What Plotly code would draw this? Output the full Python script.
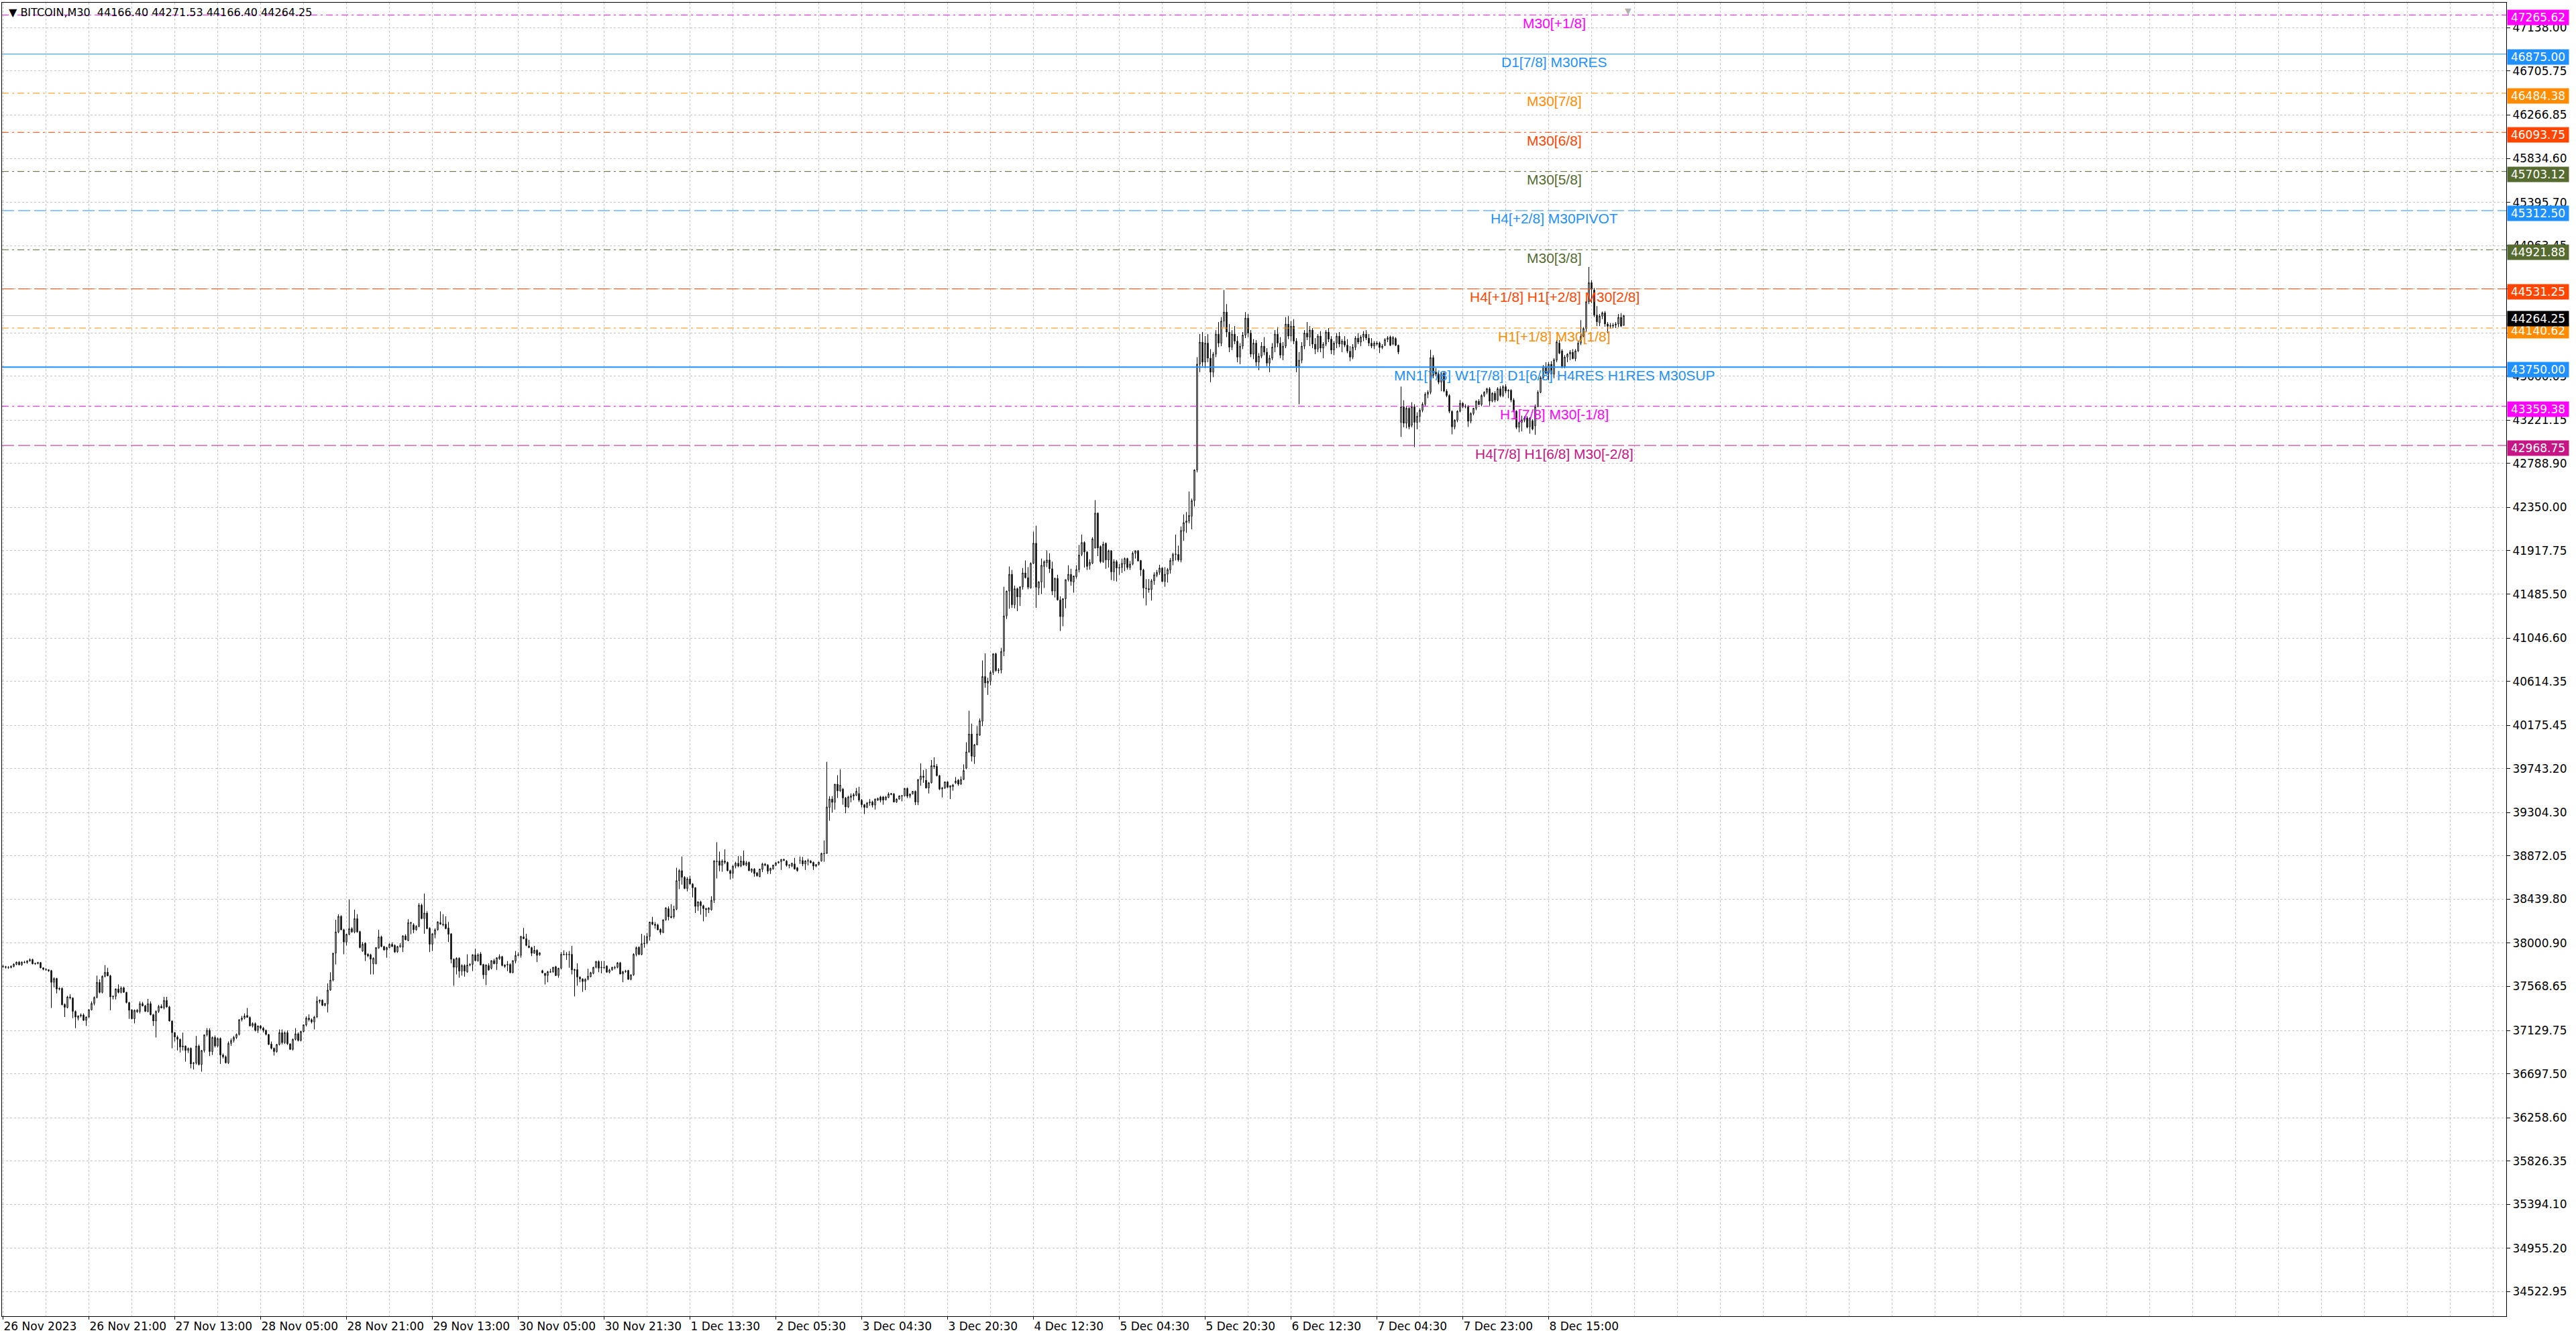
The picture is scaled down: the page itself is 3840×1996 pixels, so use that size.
import plotly.graph_objects as go

# BITCOIN M30 candles, oldest first (bar index = position in list)
opens = [
    37770, 37766, 37760, 37758, 37768, 37790, 37812, 37785, 37812, 37808,
    37825, 37838, 37795, 37798, 37808, 37755, 37740, 37735, 37728, 37610,
    37648, 37543, 37550, 37390, 37360, 37465, 37455, 37320, 37253, 37275,
    37285, 37231, 37264, 37336, 37400, 37460, 37610, 37510, 37670, 37712,
    37675, 37465, 37470, 37543, 37510, 37556, 37510, 37409, 37336, 37247,
    37331, 37318, 37398, 37375, 37320, 37398, 37287, 37224, 37320, 37370,
    37355, 37430, 37365, 37224, 37108, 37064, 37041, 36964, 36975, 36930,
    36952, 36800, 36805, 36975, 36790, 36930, 37086, 37131, 36919, 37060,
    36975, 37050, 36885, 36867, 36807, 37001, 37030, 37060, 37090, 37238,
    37253, 37280, 37260, 37175, 37198, 37131, 37175, 37153, 37131, 37090,
    36995, 36952, 36919, 36990, 37108, 37008, 37108, 36997, 36941, 37041,
    37097, 37030, 37120, 37186, 37253, 37238, 37215, 37264, 37421, 37432,
    37380, 37395, 37533, 37633, 37901, 38113, 38269, 38135, 38012, 38090,
    38146, 38113, 38246, 38117, 37923, 38001, 37890, 37885, 37796, 37796,
    37952, 38064, 37968, 37934, 37957, 37990, 37979, 37916, 37968, 37961,
    38073, 38028, 38206, 38184, 38135, 38169, 38380, 38246, 38302, 38151,
    37990, 38090, 38135, 38206, 38191, 38191, 38153, 38095, 37841, 37760,
    37850, 37722, 37778, 37716, 37783, 37789, 37885, 37827, 37894, 37789,
    37685, 37778, 37751, 37827, 37796, 37845, 37867, 37768, 37783, 37789,
    37707, 37823, 37879, 37879, 38064, 38046, 37974, 37957, 37901, 37930,
    37885, 37727, 37700, 37678, 37716, 37716, 37767, 37678, 37751, 37890,
    37885, 37890, 37890, 37729, 37738, 37662, 37644, 37618, 37640, 37667,
    37700, 37760, 37818, 37756, 37760, 37774, 37711, 37734, 37760, 37760,
    37805, 37693, 37716, 37729, 37640, 37685, 37890, 37960, 37889, 37996,
    38001, 38068, 38212, 38190, 38183, 38139, 38108, 38233, 38346, 38268,
    38264, 38340, 38625, 38725, 38659, 38547, 38643, 38592, 38554, 38368,
    38413, 38375, 38346, 38335, 38335, 38429, 38814, 38821, 38777, 38821,
    38808, 38725, 38696, 38770, 38799, 38770, 38821, 38781, 38808, 38719,
    38741, 38703, 38665, 38737, 38777, 38781, 38725, 38741, 38777, 38803,
    38814, 38826, 38821, 38781, 38770, 38792, 38754, 38826, 38826, 38792,
    38826, 38821, 38808, 38770, 38786, 38821, 38893, 38897, 39356, 39439,
    39406, 39588, 39521, 39539, 39450, 39361, 39455, 39468, 39477, 39495,
    39428, 39383, 39356, 39401, 39410, 39379, 39428, 39461, 39461, 39432,
    39455, 39484, 39490, 39410, 39439, 39468, 39472, 39546, 39468, 39490,
    39517, 39410, 39633, 39669, 39628, 39550, 39602, 39773, 39766, 39673,
    39539, 39550, 39611, 39557, 39564, 39600, 39628, 39588, 39635, 39748,
    39910, 40089, 39862, 39982, 40077, 40216, 40663, 40596, 40615, 40703,
    40889, 40722, 40727, 40913, 41267, 41515, 41683, 41379, 41539, 41458,
    41558, 41697, 41649, 41546, 41792, 41993, 41546, 41606, 41761, 41797,
    41826, 41738, 41515, 41642, 41427, 41260, 41439, 41630, 41683, 41606,
    41659, 41730, 41881, 42000, 41905, 41773, 41793, 41945, 42294, 41960,
    41809, 41993, 41826, 41917, 41707, 41809, 41745, 41750, 41785, 41840,
    41750, 41785, 41893, 41917, 41821, 41726, 41539, 41539, 41530, 41618,
    41673, 41702, 41745, 41611, 41683, 41726, 41816, 41881, 41881, 41826,
    42113, 42199, 42215, 42263, 42418, 42724, 43780, 44000, 43800, 43990,
    43840, 43700, 43880, 44080, 43990, 44210, 44300, 44100, 43950, 44080,
    44010, 43850, 43960, 44070, 44240, 44090, 43880, 43990, 43800, 43860,
    43960, 43900, 43790, 43840, 43950, 44080, 43990, 43870, 43960, 44180,
    44060, 44160, 44010, 43760, 43820, 43960, 44090, 44050, 44120, 43980,
    43930, 44060, 43940, 43980, 44100, 44030, 43920, 43990, 44060, 43980,
    44010, 43970, 43910, 43850, 43950, 44040, 44000, 44050, 44080, 44040,
    43990, 43960, 43990, 43991, 43946, 43969, 44025, 44052, 43980, 44036,
    43969, 43199, 43355, 43190, 43340, 43170, 43355, 43199, 43260, 43320,
    43380, 43480, 43500, 43846, 43700, 43680, 43601, 43690, 43511, 43467,
    43310, 43154, 43221, 43310, 43390, 43355, 43358, 43210, 43288, 43340,
    43410, 43377, 43467, 43500, 43534, 43411, 43489, 43422, 43534, 43467,
    43556, 43511, 43519, 43422, 43310, 43150, 43199, 43221, 43243, 43154,
    43215, 43165, 43355, 43500, 43645, 43757, 43690, 43779, 43680, 43820,
    43990, 43913, 43757, 43850, 43880, 43900, 43835, 43913, 43990, 44058,
    44136, 44404, 44594, 44520, 44270, 44192, 44259, 44293, 44181, 44159,
    44160, 44170, 44181, 44248, 44166.40,
]
highs = [
    37785, 37775, 37772, 37780, 37800, 37818, 37822, 37818, 37825, 37830,
    37849, 37845, 37805, 37815, 37812, 37760, 37752, 37740, 37735, 37660,
    37655, 37560, 37560, 37400, 37475, 37490, 37460, 37330, 37280, 37300,
    37300, 37270, 37345, 37420, 37470, 37677, 37640, 37680, 37782, 37755,
    37685, 37480, 37550, 37590, 37570, 37565, 37515, 37415, 37340, 37340,
    37345, 37420, 37415, 37385, 37445, 37420, 37295, 37330, 37385, 37390,
    37465, 37465, 37375, 37230, 37115, 37080, 37050, 37108, 36980, 36960,
    36960, 36815, 37075, 36990, 36935, 37090, 37153, 37150, 37070, 37080,
    37060, 37060, 36900, 36880, 37020, 37050, 37075, 37100, 37240, 37275,
    37300, 37354, 37270, 37210, 37210, 37180, 37185, 37165, 37140, 37095,
    37020, 36960, 36995, 37140, 37140, 37120, 37130, 37000, 37050, 37153,
    37110, 37125, 37190, 37270, 37290, 37250, 37275, 37470, 37440, 37440,
    37405, 37600, 37711, 37905, 38235, 38290, 38280, 38145, 38095, 38436,
    38160, 38336, 38291, 38125, 38012, 38010, 37900, 37895, 37860, 37960,
    38135, 38075, 37975, 37965, 38000, 38010, 37990, 37975, 38001, 38080,
    38090, 38240, 38215, 38200, 38180, 38400, 38395, 38496, 38320, 38160,
    38100, 38150, 38220, 38318, 38291, 38269, 38213, 38100, 37850, 37860,
    37860, 37790, 37790, 37890, 37800, 37890, 37945, 37900, 37912, 37795,
    37790, 37800, 37830, 37845, 37860, 37890, 37875, 37790, 37823, 37800,
    37830, 37923, 37910, 38075, 38153, 38095, 38035, 37965, 37974, 37940,
    37910, 37735, 37705, 37725, 37745, 37765, 37775, 37755, 37912, 37930,
    37912, 37923, 37974, 37745, 37800, 37670, 37650, 37650, 37745, 37715,
    37765, 37825, 37830, 37823, 37823, 37780, 37745, 37765, 37775, 37812,
    37815, 37725, 37735, 37735, 37690, 37900, 37968, 37970, 38094, 38079,
    38101, 38215, 38264, 38212, 38195, 38150, 38240, 38360, 38368, 38391,
    38375, 38754, 38740, 38866, 38670, 38660, 38674, 38600, 38560, 38420,
    38425, 38385, 38355, 38360, 38469, 38830, 39009, 38915, 38837, 38937,
    38815, 38735, 38780, 38814, 38870, 38870, 38926, 38821, 38815, 38748,
    38750, 38710, 38745, 38803, 38800, 38790, 38755, 38785, 38810, 38820,
    38840, 38845, 38830, 38790, 38805, 38852, 38760, 38866, 38862, 38830,
    38845, 38830, 38815, 38790, 38814, 38904, 39026, 39811, 39468, 39468,
    39588, 39678, 39736, 39550, 39460, 39472, 39495, 39499, 39550, 39562,
    39440, 39390, 39410, 39439, 39423, 39445, 39455, 39472, 39470, 39470,
    39506, 39500, 39500, 39445, 39475, 39480, 39550, 39555, 39495, 39520,
    39525, 39640, 39796, 39729, 39740, 39610, 39829, 39856, 39789, 39680,
    39560, 39615, 39617, 39575, 39590, 39659, 39640, 39666, 39786, 40006,
    40321, 40192, 39990, 40168, 40244, 40823, 40894, 40651, 40722, 40895,
    40900, 40746, 40949, 41558, 41520, 41761, 41726, 41570, 41550, 41560,
    41745, 41821, 41754, 41802, 42108, 42168, 41615, 41840, 41821, 41922,
    41893, 41809, 41650, 41678, 41463, 41445, 41630, 41773, 41738, 41670,
    41773, 41976, 42079, 42012, 41915, 41833, 42053, 42423, 42300, 41970,
    42008, 42000, 41929, 41925, 41833, 41826, 41785, 41840, 41850, 41848,
    41816, 41912, 41922, 41925, 41826, 41738, 41635, 41635, 41635, 41702,
    41726, 41778, 41754, 41754, 41745, 41845, 41898, 42079, 41969, 42160,
    42280, 42304, 42509, 42438, 42730, 43850, 44080, 44100, 44060, 44080,
    43930, 43900, 44120, 44200, 44250, 44520, 44380, 44180, 44120, 44160,
    44060, 43990, 44100, 44300, 44280, 44120, 44030, 44020, 43890, 44000,
    44050, 43940, 43870, 43990, 44120, 44150, 44050, 44000, 44250, 44260,
    44210, 44230, 44040, 43900, 44000, 44120, 44200, 44160, 44140, 44040,
    44080, 44110, 44000, 44120, 44140, 44060, 44010, 44090, 44100, 44030,
    44060, 44030, 43960, 43980, 44060, 44090, 44070, 44110, 44120, 44080,
    44040, 44010, 44010, 44005, 43980, 44040, 44060, 44065, 44060, 44050,
    43975, 43556, 43420, 43360, 43350, 43400, 43380, 43300, 43340, 43400,
    43500, 43520, 43924, 43870, 43740, 43700, 43700, 43710, 43530, 43480,
    43320, 43230, 43320, 43422, 43400, 43380, 43370, 43300, 43345, 43420,
    43430, 43480, 43510, 43545, 43550, 43500, 43510, 43550, 43560, 43570,
    43580, 43530, 43530, 43440, 43320, 43210, 43266, 43260, 43260, 43250,
    43230, 43377, 43520, 43660, 43770, 43800, 43800, 43810, 43840, 44020,
    44020, 43930, 43870, 43890, 43920, 43930, 43930, 44010, 44220, 44150,
    44410, 44750, 44620, 44540, 44360, 44280, 44305, 44310, 44200, 44190,
    44190, 44200, 44280, 44290, 44271.53,
]
lows = [
    37755, 37748, 37745, 37750, 37760, 37782, 37780, 37775, 37800, 37795,
    37815, 37790, 37785, 37790, 37750, 37730, 37725, 37715, 37354, 37560,
    37500, 37530, 37380, 37264, 37350, 37440, 37253, 37153, 37230, 37260,
    37225, 37175, 37255, 37330, 37380, 37450, 37500, 37500, 37660, 37670,
    37331, 37440, 37440, 37500, 37500, 37505, 37400, 37245, 37240, 37200,
    37305, 37300, 37370, 37315, 37310, 37280, 37175, 37060, 37305, 37350,
    37340, 37355, 37220, 36952, 37020, 36930, 36910, 36930, 36818, 36905,
    36752, 36740, 36790, 36780, 36718, 36910, 37070, 36875, 36885, 36960,
    36960, 36796, 36850, 36800, 36795, 36975, 37010, 37045, 37080, 37220,
    37240, 37260, 37170, 37160, 37120, 37105, 37140, 37110, 37080, 36985,
    36940, 36880, 36908, 36980, 36990, 36995, 36985, 36935, 36930, 37030,
    37020, 37020, 37110, 37170, 37220, 37200, 37140, 37255, 37400, 37375,
    37370, 37310, 37525, 37620, 37789, 38100, 38130, 37890, 37979, 38080,
    38105, 38100, 38105, 37950, 37915, 37823, 37860, 37689, 37689, 37790,
    37945, 37960, 37925, 37856, 37950, 37960, 37905, 37905, 37955, 37912,
    38030, 38020, 38090, 38100, 38125, 38160, 38240, 38095, 38140, 37912,
    37923, 38050, 38125, 38185, 38169, 38140, 38012, 37800, 37577, 37689,
    37656, 37678, 37667, 37705, 37770, 37722, 37820, 37815, 37780, 37644,
    37582, 37725, 37740, 37790, 37734, 37835, 37770, 37755, 37722, 37700,
    37700, 37800, 37870, 37856, 38040, 37970, 37950, 37872, 37895, 37812,
    37875, 37700, 37589, 37611, 37705, 37705, 37675, 37656, 37740, 37880,
    37834, 37756, 37689, 37470, 37577, 37611, 37515, 37533, 37630, 37660,
    37690, 37750, 37711, 37700, 37745, 37705, 37700, 37725, 37740, 37750,
    37690, 37611, 37705, 37635, 37630, 37675, 37870, 37880, 37880, 37956,
    37990, 38027, 38180, 38146, 38130, 38085, 38100, 38225, 38228, 38250,
    38246, 38330, 38540, 38585, 38540, 38518, 38585, 38458, 38302, 38324,
    38286, 38219, 38264, 38302, 38325, 38402, 38647, 38719, 38714, 38790,
    38719, 38636, 38647, 38748, 38759, 38760, 38775, 38770, 38720, 38703,
    38665, 38665, 38660, 38710, 38770, 38692, 38692, 38735, 38770, 38795,
    38732, 38820, 38765, 38748, 38760, 38735, 38714, 38792, 38770, 38732,
    38777, 38800, 38732, 38760, 38777, 38815, 38814, 38893, 39223, 39305,
    39334, 39450, 39510, 39383, 39298, 39350, 39406, 39428, 39470, 39410,
    39356, 39290, 39350, 39372, 39356, 39334, 39420, 39406, 39383, 39425,
    39450, 39478, 39406, 39401, 39432, 39417, 39465, 39450, 39450, 39485,
    39379, 39379, 39573, 39602, 39544, 39495, 39595, 39740, 39665, 39528,
    39455, 39540, 39550, 39439, 39523, 39590, 39571, 39580, 39630, 39738,
    39900, 39814, 39790, 39975, 40070, 40168, 40550, 40479, 40574, 40679,
    40710, 40694, 40694, 40866, 41236, 41339, 41348, 41343, 41315, 41367,
    41530, 41640, 41534, 41540, 41785, 41348, 41475, 41487, 41546, 41754,
    41697, 41475, 41451, 41420, 41117, 41164, 41343, 41611, 41570, 41499,
    41640, 41702, 41864, 41750, 41726, 41730, 41785, 41941, 41864, 41793,
    41797, 41738, 41750, 41625, 41618, 41611, 41678, 41697, 41714, 41730,
    41726, 41773, 41840, 41810, 41666, 41444, 41372, 41499, 41420, 41578,
    41654, 41678, 41605, 41558, 41601, 41690, 41773, 41821, 41809, 41802,
    42017, 42096, 42191, 42132, 42359, 42700, 43700, 43760, 43740, 43800,
    43600, 43650, 43850, 43950, 43960, 44150, 44050, 43900, 43920, 43980,
    43800, 43780, 43930, 44040, 44050, 43850, 43830, 43760, 43720, 43840,
    43870, 43760, 43700, 43820, 43900, 43950, 43840, 43820, 43940, 44030,
    44010, 43980, 43700, 43380, 43790, 43930, 44020, 43960, 43940, 43880,
    43900, 43900, 43840, 43960, 44000, 43880, 43870, 43940, 43950, 43900,
    43950, 43890, 43810, 43830, 43920, 43980, 43960, 44010, 44020, 43960,
    43940, 43930, 43965, 43891, 43930, 43960, 44000, 43960, 43970, 43960,
    43880, 43054, 43150, 43140, 43130, 43150, 42953, 43130, 43200, 43300,
    43360, 43440, 43480, 43640, 43660, 43580, 43510, 43500, 43450, 43290,
    43080, 43130, 43200, 43300, 43340, 43340, 43154, 43190, 43270, 43320,
    43370, 43360, 43450, 43480, 43366, 43400, 43400, 43410, 43450, 43450,
    43490, 43440, 43400, 43300, 43132, 43100, 43110, 43200, 43140, 43087,
    43120, 43075, 43350, 43490, 43630, 43680, 43620, 43660, 43640, 43800,
    43880, 43740, 43740, 43800, 43820, 43830, 43810, 43900, 43970, 44050,
    44100, 44380, 44390, 44250, 44160, 44160, 44230, 44155, 44090, 44136,
    44140, 44140, 44150, 44150, 44166.40,
]
closes = [
    37766, 37760, 37758, 37770, 37790, 37812, 37785, 37812, 37808, 37825,
    37836, 37795, 37800, 37808, 37755, 37740, 37735, 37725, 37610, 37648,
    37543, 37550, 37387, 37360, 37465, 37455, 37320, 37264, 37275, 37285,
    37231, 37264, 37336, 37400, 37460, 37610, 37510, 37670, 37710, 37675,
    37465, 37470, 37543, 37510, 37554, 37510, 37409, 37331, 37247, 37331,
    37318, 37398, 37375, 37320, 37398, 37287, 37224, 37320, 37370, 37355,
    37430, 37365, 37224, 37108, 37064, 37041, 36964, 36975, 36930, 36950,
    36796, 36805, 36975, 36790, 36930, 37086, 37131, 36919, 37060, 36975,
    37050, 36885, 36867, 36807, 37001, 37030, 37060, 37090, 37238, 37253,
    37275, 37260, 37175, 37198, 37131, 37175, 37153, 37131, 37090, 36990,
    36952, 36919, 36990, 37108, 37008, 37108, 36997, 36941, 37041, 37097,
    37030, 37120, 37186, 37253, 37238, 37215, 37264, 37421, 37432, 37380,
    37399, 37533, 37633, 37901, 38113, 38269, 38135, 38012, 38090, 38146,
    38113, 38246, 38113, 37957, 37990, 37885, 37874, 37841, 37850, 37957,
    38064, 37968, 37934, 37957, 37990, 37968, 37912, 37968, 37975, 38073,
    38035, 38206, 38200, 38135, 38169, 38380, 38246, 38302, 38146, 37990,
    38095, 38135, 38213, 38191, 38185, 38146, 38090, 37841, 37760, 37850,
    37722, 37778, 37722, 37783, 37789, 37885, 37827, 37885, 37783, 37685,
    37783, 37734, 37827, 37796, 37856, 37867, 37778, 37783, 37789, 37707,
    37827, 37879, 37885, 38068, 38046, 37979, 37957, 37901, 37930, 37879,
    37905, 37705, 37678, 37716, 37712, 37760, 37678, 37751, 37890, 37885,
    37890, 37885, 37734, 37738, 37662, 37644, 37618, 37640, 37672, 37707,
    37760, 37818, 37751, 37760, 37756, 37711, 37734, 37760, 37756, 37805,
    37693, 37716, 37722, 37640, 37685, 37890, 37956, 37889, 37996, 38001,
    38068, 38212, 38190, 38179, 38134, 38108, 38233, 38353, 38264, 38257,
    38340, 38625, 38725, 38659, 38547, 38643, 38592, 38554, 38368, 38413,
    38375, 38346, 38335, 38353, 38429, 38821, 38821, 38777, 38821, 38808,
    38725, 38696, 38770, 38799, 38770, 38821, 38781, 38803, 38725, 38741,
    38696, 38674, 38741, 38792, 38792, 38719, 38748, 38781, 38803, 38814,
    38837, 38837, 38777, 38777, 38799, 38741, 38725, 38826, 38792, 38821,
    38821, 38803, 38770, 38786, 38810, 38897, 38897, 39361, 39439, 39406,
    39588, 39521, 39579, 39450, 39361, 39461, 39472, 39484, 39517, 39428,
    39383, 39356, 39401, 39410, 39379, 39439, 39446, 39428, 39428, 39461,
    39490, 39495, 39410, 39439, 39472, 39472, 39546, 39468, 39490, 39517,
    39410, 39633, 39669, 39655, 39550, 39602, 39773, 39762, 39673, 39539,
    39550, 39611, 39557, 39573, 39580, 39619, 39588, 39635, 39724, 39910,
    40089, 39867, 39982, 40089, 40221, 40663, 40598, 40615, 40703, 40889,
    40722, 40727, 40913, 41267, 41515, 41683, 41379, 41539, 41458, 41558,
    41697, 41649, 41554, 41792, 41993, 41554, 41606, 41773, 41809, 41826,
    41738, 41515, 41642, 41427, 41260, 41439, 41630, 41683, 41611, 41666,
    41730, 41874, 42000, 41905, 41761, 41802, 42036, 42294, 41945, 41809,
    41984, 41826, 41917, 41707, 41809, 41745, 41750, 41792, 41840, 41750,
    41785, 41893, 41917, 41816, 41726, 41546, 41545, 41530, 41618, 41678,
    41702, 41745, 41611, 41683, 41730, 41821, 41881, 41885, 41826, 42120,
    42199, 42215, 42270, 42418, 42724, 43780, 44000, 43800, 43990, 43840,
    43700, 43880, 44080, 43990, 44210, 44300, 44100, 43950, 44080, 44010,
    43850, 43960, 44070, 44240, 44090, 43880, 43990, 43800, 43860, 43960,
    43900, 43790, 43840, 43950, 44080, 43990, 43870, 43960, 44180, 44060,
    44160, 44010, 43760, 43820, 43960, 44090, 44050, 44120, 43980, 43930,
    44060, 43940, 43980, 44100, 44030, 43920, 43990, 44060, 43980, 44010,
    43970, 43910, 43850, 43950, 44040, 44000, 44050, 44080, 44040, 43990,
    43960, 43990, 43980, 43946, 43960, 44025, 44043, 43969, 44047, 43969,
    43902, 43355, 43190, 43340, 43154, 43355, 43199, 43260, 43320, 43380,
    43480, 43500, 43846, 43668, 43680, 43601, 43690, 43511, 43467, 43310,
    43154, 43221, 43310, 43390, 43355, 43358, 43210, 43288, 43340, 43410,
    43377, 43467, 43500, 43534, 43411, 43489, 43422, 43534, 43467, 43556,
    43511, 43519, 43422, 43310, 43150, 43199, 43225, 43243, 43150, 43240,
    43132, 43355, 43500, 43645, 43757, 43690, 43779, 43680, 43824, 44002,
    43890, 43757, 43850, 43880, 43900, 43835, 43913, 43990, 44058, 44136,
    44404, 44594, 44527, 44270, 44203, 44259, 44293, 44181, 44159, 44165,
    44170, 44181, 44248, 44160, 44264.25,
]

# one time label every 32 bars
time_labels = [
    "26 Nov 2023", "26 Nov 21:00", "27 Nov 13:00", "28 Nov 05:00", "28 Nov 21:00",
    "29 Nov 13:00", "30 Nov 05:00", "30 Nov 21:30", "1 Dec 13:30", "2 Dec 05:30",
    "3 Dec 04:30", "3 Dec 20:30", "4 Dec 12:30", "5 Dec 04:30", "5 Dec 20:30",
    "6 Dec 12:30", "7 Dec 04:30", "7 Dec 23:00", "8 Dec 15:00",
]

# price scale labels (two are hidden under level tags)
price_ticks = [
    47138.00, 46705.75, 46266.85, 45834.60, 45395.70, 44963.45, 44531.20,
    44092.30, 43660.05, 43221.15, 42788.90, 42350.00, 41917.75, 41485.50,
    41046.60, 40614.35, 40175.45, 39743.20, 39304.30, 38872.05, 38439.80,
    38000.90, 37568.65, 37129.75, 36697.50, 36258.60, 35826.35, 35394.10,
    34955.20, 34522.95,
]
hidden_ticks = [44531.20, 44092.30]

# Murrey math levels
level_prices = [
    47265.62, 46875.00, 46484.38, 46093.75, 45703.12, 45312.50,
    44921.88, 44531.25, 44140.62, 43750.00, 43359.38, 42968.75,
]
level_names = [
    "M30[+1/8]", "D1[7/8] M30RES", "M30[7/8]", "M30[6/8]", "M30[5/8]",
    "H4[+2/8] M30PIVOT", "M30[3/8]", "H4[+1/8] H1[+2/8] M30[2/8]",
    "H1[+1/8] M30[1/8]", "MN1[7/8] W1[7/8] D1[6/8] H4RES H1RES M30SUP",
    "H1[7/8] M30[-1/8]", "H4[7/8] H1[6/8] M30[-2/8]",
]

MAGENTA = '#FF00FF'
BLUE = '#1E90FF'
ORANGE = '#FF8C00'
RED = '#FF4500'
OLIVE = '#556B2F'
VIOLET = '#C71585'
DASHDOT = '10px,5px,3px,5px'
LONGDASH = '18px,6px'

level_colors = [MAGENTA, BLUE, ORANGE, RED, OLIVE, BLUE,
                OLIVE, RED, ORANGE, BLUE, MAGENTA, VIOLET]
level_dashes = [DASHDOT, 'solid', DASHDOT, DASHDOT, DASHDOT, LONGDASH,
                DASHDOT, LONGDASH, DASHDOT, 'solid', DASHDOT, LONGDASH]
level_widths = [1, 1, 1, 1, 1, 1, 1, 1, 1, 2, 1, 1]

assert len(opens) == len(highs) == len(lows) == len(closes)

AXIS_FONT = dict(family='DejaVu Sans', size=17, color='black')
GRID = '#C4C4C4'
GRID_DASH = '3px,3px'
LABEL_X = 0.62  # level labels are centred here (paper coords)


def main():
    bars = list(range(len(closes)))

    candles = go.Candlestick(
        x=bars, open=opens, high=highs, low=lows, close=closes,
        increasing=dict(line=dict(color='black', width=1), fillcolor='white'),
        decreasing=dict(line=dict(color='black', width=1), fillcolor='black'),
        whiskerwidth=0, hoverinfo='skip', showlegend=False)

    fig = go.Figure(data=[candles])

    # current price line
    fig.add_hline(y=closes[-1], line=dict(color='#C0C0C0', width=1),
                  layer='below')

    for price, name, color, dash, width in zip(level_prices, level_names,
                                               level_colors, level_dashes,
                                               level_widths):
        fig.add_hline(y=price, line=dict(color=color, dash=dash, width=width))
        fig.add_annotation(xref='paper', x=LABEL_X, y=price, yshift=-12,
                           text=name, showarrow=False, xanchor='center',
                           yanchor='middle',
                           font=dict(family='Liberation Sans', size=21,
                                     color=color))

    # price tags on the right scale
    tags = list(zip(level_prices, level_colors))
    tags.append((closes[-1], 'black'))
    for price, color in tags:
        fig.add_annotation(xref='paper', x=1, xanchor='left', xshift=1,
                           y=price, yshift=-4, yanchor='middle',
                           text=f"{price:.2f}", showarrow=False,
                           bgcolor=color, borderpad=2, width=87, height=18,
                           align='center',
                           font=dict(family='DejaVu Sans', size=17,
                                     color='white'))

    header = (f"BITCOIN,M30\u00a0\u00a0{opens[-1]:.2f} {highs[-1]:.2f} "
              f"{lows[-1]:.2f} {closes[-1]:.2f}")
    fig.add_annotation(xref='paper', yref='paper', x=0, y=1, xshift=8,
                       yshift=-3, xanchor='left', yanchor='top',
                       text="\u25bc\u00a0" + header, showarrow=False,
                       font=dict(family='DejaVu Sans', size=16, color='black'))

    # chart shift marker
    fig.add_annotation(x=len(closes) + 0.5, xref='x', yref='paper', y=1,
                       yanchor='top', yshift=1, text="\u25bc", showarrow=False,
                       font=dict(size=16, color='#B0B0B0'))

    ytext = ["" if v in hidden_ticks else f"{v:.2f}" for v in price_ticks]

    fig.update_layout(
        width=3840, height=1996,
        margin=dict(l=3, r=104, t=4, b=34),
        paper_bgcolor='white', plot_bgcolor='white',
        boxgap=0.5, hovermode=False, dragmode=False,
        xaxis=dict(
            # offset by 1/8 bar so 1px candle strokes land on whole pixels
            range=[-0.375, 932.875],
            tickmode='array',
            tickvals=[32 * i for i in range(len(time_labels))],
            ticktext=time_labels,
            ticks='outside', ticklen=4, tickcolor='black',
            ticklabelposition='outside right',
            tickfont=AXIS_FONT,
            showgrid=True, gridcolor=GRID, griddash=GRID_DASH, gridwidth=1,
            minor=dict(tickmode='linear', tick0=0, dtick=16, showgrid=True,
                       gridcolor=GRID, griddash=GRID_DASH, ticks=''),
            showline=True, linecolor='black', linewidth=1, mirror=True,
            zeroline=False,
            rangeslider=dict(visible=False),
            fixedrange=True,
        ),
        yaxis=dict(
            range=[34278, 47388],
            side='right',
            tickmode='array', tickvals=price_ticks, ticktext=ytext,
            ticks='outside', ticklen=5, tickcolor='black',
            tickfont=AXIS_FONT,
            showgrid=True, gridcolor=GRID, griddash=GRID_DASH, gridwidth=1,
            showline=True, linecolor='black', linewidth=1, mirror=True,
            zeroline=False,
            fixedrange=True,
        ),
    )

    fig.write_html("out.html",
                   config={'displayModeBar': False},
                   post_script="document.body.style.margin='0';"
                               "document.body.style.overflow='hidden';")


if __name__ == '__main__':
    main()
